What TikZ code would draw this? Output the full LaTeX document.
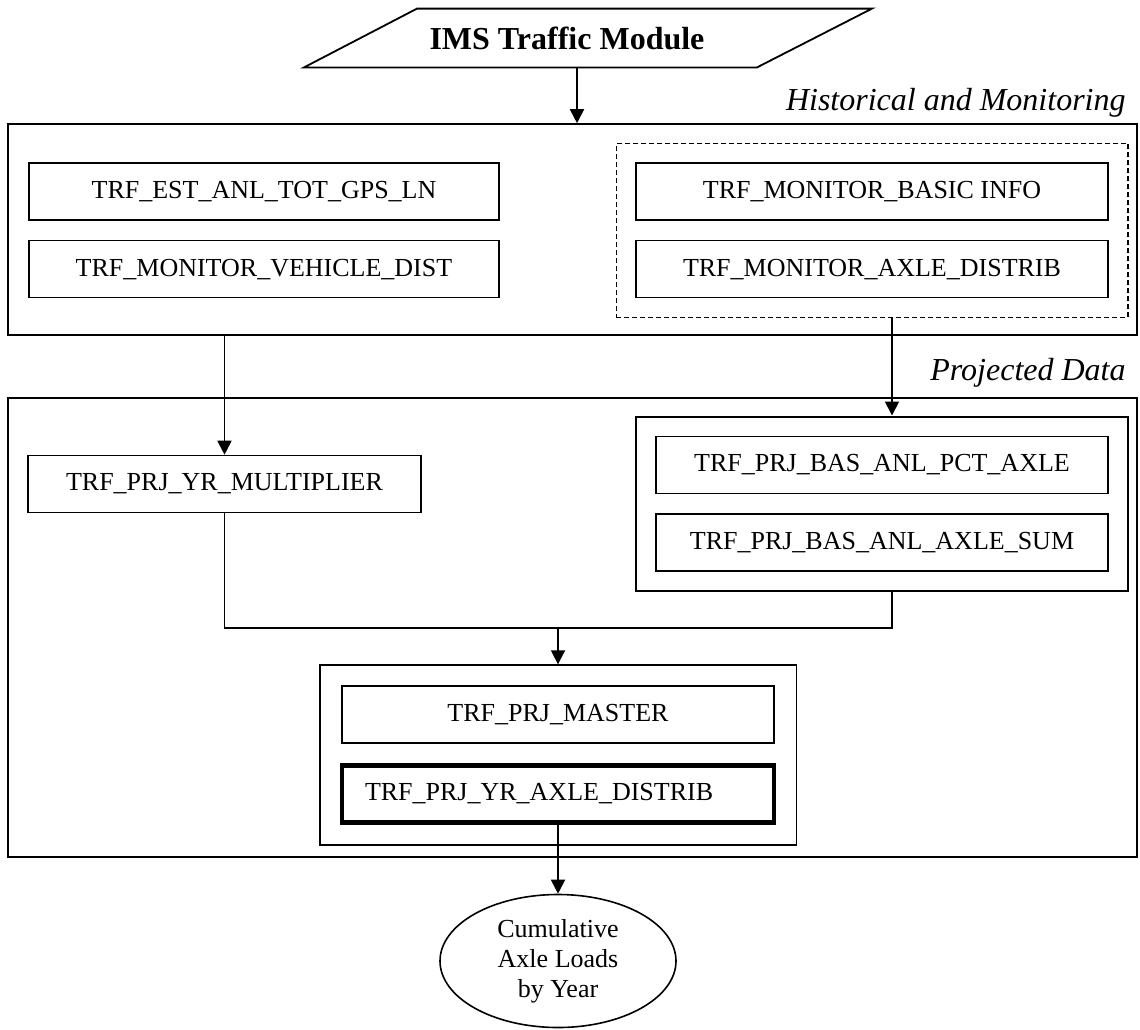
\documentclass[tikz,border=0pt]{standalone}
\usepackage{fontspec}
\setmainfont{Liberation Serif}
\usetikzlibrary{shapes.geometric, arrows.meta, positioning, fit, calc}
\tikzset{
  tbl/.style={rectangle, draw=black, line width=0.8pt, minimum width=235pt, minimum height=28.5pt, align=center, inner sep=0pt},
  area/.style={rectangle, draw=black, line width=0.8pt, minimum width=564.5pt, inner sep=0pt},
  arrow/.style={-{Triangle[length=7pt, width=7pt]}, line width=0.9pt},
}
\begin{document}
\begin{tikzpicture}[x=0.5pt, y=-0.5pt, font=\fontsize{13}{15}\selectfont,
  sec/.style={font=\itshape\fontsize{16}{19}\selectfont, anchor=base east, inner sep=0pt},
  grp/.style={rectangle, draw=black, line width=0.9pt, inner sep=9.5pt}]
\useasboundingbox (0,0) rectangle (1140,1029);

% input
\node[font=\bfseries\fontsize{16}{19}\selectfont, minimum height=29pt, inner sep=0pt] (ims) at (567,38) {IMS Traffic Module};
\draw[line width=0.9pt] ($(ims.south)+(-263,0)$) -- ($(ims.south)+(190,0)$) -- ($(ims.north)+(305,0)$) -- ($(ims.north)+(-150,0)$) -- cycle;

% historical and monitoring
\node[area, minimum height=105.5pt] (hist) at (572.5,229.5) {};
\node[sec] (histlbl) at (1126,110) {Historical and Monitoring};
\node[tbl] (est) at (264,191.5) {TRF\_EST\_ANL\_TOT\_GPS\_LN};
\node[tbl, below=9.5pt of est] (vehdist) {TRF\_MONITOR\_VEHICLE\_DIST};
\node[tbl, minimum width=236pt] (basic) at (872,191.5) {TRF\_MONITOR\_BASIC INFO};
\node[tbl, minimum width=236pt, below=9.5pt of basic] (axdist) {TRF\_MONITOR\_AXLE\_DISTRIB};
\node[grp, dash pattern=on 2.5pt off 1.5pt, line width=0.7pt, fit=(basic)(axdist)] (mon) {};

% projected data
\node[area, minimum height=229.5pt] (proj) at (572.5,627.5) {};
\node[sec] (projlbl) at (1126,380) {Projected Data};
\node[tbl, minimum width=196.5pt] (mult) at (224.5,484) {TRF\_PRJ\_YR\_MULTIPLIER};
\node[tbl, minimum width=226pt] (pct) at (882,465) {TRF\_PRJ\_BAS\_ANL\_PCT\_AXLE};
\node[tbl, minimum width=226pt, below=9.5pt of pct] (axsum) {TRF\_PRJ\_BAS\_ANL\_AXLE\_SUM};
\node[grp, line width=1.2pt, fit=(pct)(axsum)] (bas) {};
\node[tbl, minimum width=216pt] (master) at (558,714.5) {TRF\_PRJ\_MASTER};
\node[tbl, minimum width=216pt, line width=2.4pt, text width=193pt, align=left, below=9.5pt of master] (yraxle) {TRF\_PRJ\_YR\_AXLE\_DISTRIB};
\node[grp, inner sep=10pt, fit=(master)(yraxle)] (mgrp) {};

% output
\node[ellipse, draw, line width=0.8pt, minimum width=118pt, minimum height=66.5pt, align=center, inner sep=0pt] (cum) at (558,961) {Cumulative\\Axle Loads\\by Year};

\coordinate (mx) at (892,0);
\coordinate (merge) at (558,628);
\draw[arrow] ($(ims.south)+(10,0)$) coordinate (imsout) -- (imsout |- hist.north);
\draw[arrow] (hist.south -| mult.north) -- (mult.north);
\draw[arrow] (mon.south -| mx) -- (bas.north -| mx);
\draw[line width=0.9pt] (mult.south) |- (merge) -| (bas.south -| mx);
\draw[arrow] (merge) -- (mgrp.north);
\draw[arrow] (yraxle.south) -- (cum.north);
\end{tikzpicture}
\end{document}
